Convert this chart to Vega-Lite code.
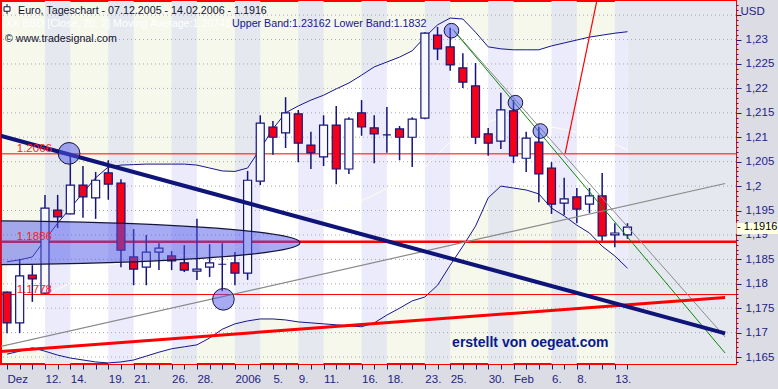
{
  "$schema": "https://vega.github.io/schema/vega-lite/v6.json",
  "width": 735,
  "height": 363,
  "autosize": {"type": "none"},
  "padding": {"left": 1, "top": 1, "right": 42, "bottom": 25},
  "background": "#dcdce4",
  "config": {
    "view": {"stroke": "#ff0000", "strokeWidth": 2, "fill": "#f5f8eb"},
    "font": "Liberation Sans",
    "axis": {"labelOverlap": false, "labelBound": false, "labelFlush": false, "labelLimit": 0}
  },
  "datasets": {
    "ohlc": [
      {"d":"2005-12-07","i":0,"o":1.1783,"h":1.1784,"l":1.1699,"c":1.1720,"ub":1.1845,"lb":1.1656,"ma":1.1751,"lav":null},
      {"d":"2005-12-08","i":1,"o":1.1720,"h":1.1851,"l":1.1699,"c":1.1816,"ub":1.1849,"lb":1.1662,"ma":1.1756,"lav":null},
      {"d":"2005-12-09","i":2,"o":1.1818,"h":1.1838,"l":1.1763,"c":1.1810,"ub":1.1855,"lb":1.1669,"ma":1.1762,"lav":null},
      {"d":"2005-12-12","i":3,"o":1.1781,"h":1.1982,"l":1.1779,"c":1.1955,"ub":1.1890,"lb":1.1662,"ma":1.1776,"lav":1},
      {"d":"2005-12-13","i":4,"o":1.1951,"h":1.1982,"l":1.1914,"c":1.1937,"ub":1.1924,"lb":1.1654,"ma":1.1789,"lav":1},
      {"d":"2005-12-14","i":5,"o":1.1943,"h":1.2068,"l":1.1942,"c":1.2002,"ub":1.1955,"lb":1.1648,"ma":1.1802,"lav":1},
      {"d":"2005-12-15","i":6,"o":1.2002,"h":1.2041,"l":1.1935,"c":1.1978,"ub":1.1986,"lb":1.1644,"ma":1.1815,"lav":null},
      {"d":"2005-12-16","i":7,"o":1.1976,"h":1.2029,"l":1.1933,"c":1.2012,"ub":1.2017,"lb":1.1640,"ma":1.1829,"lav":null},
      {"d":"2005-12-19","i":8,"o":1.2027,"h":1.2053,"l":1.1972,"c":1.2004,"ub":1.2039,"lb":1.1638,"ma":1.1839,"lav":2},
      {"d":"2005-12-20","i":9,"o":1.2006,"h":1.2014,"l":1.1834,"c":1.1869,"ub":1.2043,"lb":1.1640,"ma":1.1842,"lav":2},
      {"d":"2005-12-21","i":10,"o":1.1855,"h":1.1912,"l":1.1797,"c":1.1830,"ub":1.2044,"lb":1.1644,"ma":1.1844,"lav":2},
      {"d":"2005-12-22","i":11,"o":1.1834,"h":1.1900,"l":1.1797,"c":1.1865,"ub":1.2045,"lb":1.1652,"ma":1.1849,"lav":null},
      {"d":"2005-12-23","i":12,"o":1.1865,"h":1.1883,"l":1.1828,"c":1.1873,"ub":1.2045,"lb":1.1660,"ma":1.1853,"lav":null},
      {"d":"2005-12-26","i":13,"o":1.1857,"h":1.1867,"l":1.1828,"c":1.1847,"ub":1.2045,"lb":1.1667,"ma":1.1856,"lav":3},
      {"d":"2005-12-27","i":14,"o":1.1843,"h":1.1879,"l":1.1824,"c":1.1828,"ub":1.2045,"lb":1.1671,"ma":1.1858,"lav":3},
      {"d":"2005-12-28","i":15,"o":1.1826,"h":1.1933,"l":1.1808,"c":1.1830,"ub":1.2043,"lb":1.1675,"ma":1.1859,"lav":3},
      {"d":"2005-12-29","i":16,"o":1.1834,"h":1.1881,"l":1.1814,"c":1.1843,"ub":1.2037,"lb":1.1689,"ma":1.1863,"lav":null},
      {"d":"2005-12-30","i":17,"o":1.1840,"h":1.1883,"l":1.1785,"c":1.1840,"ub":1.2031,"lb":1.1707,"ma":1.1869,"lav":null},
      {"d":"2006-01-02","i":18,"o":1.1843,"h":1.1865,"l":1.1797,"c":1.1822,"ub":1.2030,"lb":1.1718,"ma":1.1874,"lav":4},
      {"d":"2006-01-03","i":19,"o":1.1822,"h":1.2031,"l":1.1808,"c":1.2012,"ub":1.2037,"lb":1.1724,"ma":1.1881,"lav":4},
      {"d":"2006-01-04","i":20,"o":1.2010,"h":1.2145,"l":1.2002,"c":1.2129,"ub":1.2076,"lb":1.1728,"ma":1.1902,"lav":4},
      {"d":"2006-01-05","i":21,"o":1.2121,"h":1.2133,"l":1.2064,"c":1.2100,"ub":1.2117,"lb":1.1728,"ma":1.1923,"lav":null},
      {"d":"2006-01-06","i":22,"o":1.2109,"h":1.2182,"l":1.2078,"c":1.2150,"ub":1.2150,"lb":1.1726,"ma":1.1938,"lav":null},
      {"d":"2006-01-09","i":23,"o":1.2148,"h":1.2156,"l":1.2049,"c":1.2088,"ub":1.2164,"lb":1.1722,"ma":1.1943,"lav":5},
      {"d":"2006-01-10","i":24,"o":1.2084,"h":1.2111,"l":1.2035,"c":1.2068,"ub":1.2176,"lb":1.1720,"ma":1.1948,"lav":5},
      {"d":"2006-01-11","i":25,"o":1.2060,"h":1.2145,"l":1.2041,"c":1.2125,"ub":1.2186,"lb":1.1718,"ma":1.1952,"lav":5},
      {"d":"2006-01-12","i":26,"o":1.2125,"h":1.2164,"l":1.2004,"c":1.2035,"ub":1.2199,"lb":1.1716,"ma":1.1958,"lav":null},
      {"d":"2006-01-13","i":27,"o":1.2035,"h":1.2141,"l":1.2025,"c":1.2137,"ub":1.2211,"lb":1.1714,"ma":1.1963,"lav":null},
      {"d":"2006-01-16","i":28,"o":1.2150,"h":1.2176,"l":1.2103,"c":1.2121,"ub":1.2227,"lb":1.1712,"ma":1.1970,"lav":6},
      {"d":"2006-01-17","i":29,"o":1.2119,"h":1.2145,"l":1.2047,"c":1.2107,"ub":1.2244,"lb":1.1720,"ma":1.1982,"lav":6},
      {"d":"2006-01-18","i":30,"o":1.2105,"h":1.2162,"l":1.2068,"c":1.2105,"ub":1.2254,"lb":1.1736,"ma":1.1995,"lav":6},
      {"d":"2006-01-19","i":31,"o":1.2117,"h":1.2123,"l":1.2053,"c":1.2100,"ub":1.2264,"lb":1.1750,"ma":1.2007,"lav":null},
      {"d":"2006-01-20","i":32,"o":1.2100,"h":1.2141,"l":1.2039,"c":1.2137,"ub":1.2277,"lb":1.1765,"ma":1.2021,"lav":null},
      {"d":"2006-01-23","i":33,"o":1.2139,"h":1.2315,"l":1.2137,"c":1.2313,"ub":1.2305,"lb":1.1773,"ma":1.2039,"lav":7},
      {"d":"2006-01-24","i":34,"o":1.2309,"h":1.2326,"l":1.2258,"c":1.2281,"ub":1.2330,"lb":1.1797,"ma":1.2064,"lav":7},
      {"d":"2006-01-25","i":35,"o":1.2285,"h":1.2324,"l":1.2236,"c":1.2248,"ub":1.2344,"lb":1.1838,"ma":1.2091,"lav":7},
      {"d":"2006-01-26","i":36,"o":1.2242,"h":1.2272,"l":1.2201,"c":1.2213,"ub":1.2342,"lb":1.1877,"ma":1.2110,"lav":null},
      {"d":"2006-01-27","i":37,"o":1.2205,"h":1.2252,"l":1.2086,"c":1.2100,"ub":1.2315,"lb":1.1918,"ma":1.2117,"lav":null},
      {"d":"2006-01-30","i":38,"o":1.2107,"h":1.2119,"l":1.2062,"c":1.2088,"ub":1.2285,"lb":1.1976,"ma":1.2131,"lav":8},
      {"d":"2006-01-31","i":39,"o":1.2092,"h":1.2191,"l":1.2076,"c":1.2156,"ub":1.2281,"lb":1.2000,"ma":1.2141,"lav":8},
      {"d":"2006-02-01","i":40,"o":1.2154,"h":1.2176,"l":1.2047,"c":1.2062,"ub":1.2279,"lb":1.1996,"ma":1.2138,"lav":8},
      {"d":"2006-02-02","i":41,"o":1.2057,"h":1.2111,"l":1.2029,"c":1.2098,"ub":1.2279,"lb":1.1992,"ma":1.2136,"lav":null},
      {"d":"2006-02-03","i":42,"o":1.2090,"h":1.2121,"l":1.1967,"c":1.2025,"ub":1.2279,"lb":1.1984,"ma":1.2132,"lav":null},
      {"d":"2006-02-06","i":43,"o":1.2037,"h":1.2049,"l":1.1943,"c":1.1963,"ub":1.2287,"lb":1.1955,"ma":1.2121,"lav":9},
      {"d":"2006-02-07","i":44,"o":1.1965,"h":1.2017,"l":1.1941,"c":1.1974,"ub":1.2293,"lb":1.1939,"ma":1.2116,"lav":9},
      {"d":"2006-02-08","i":45,"o":1.1978,"h":1.1996,"l":1.1924,"c":1.1953,"ub":1.2299,"lb":1.1920,"ma":1.2110,"lav":9},
      {"d":"2006-02-09","i":46,"o":1.1963,"h":1.1996,"l":1.1945,"c":1.1980,"ub":1.2305,"lb":1.1904,"ma":1.2105,"lav":null},
      {"d":"2006-02-10","i":47,"o":1.1980,"h":1.2027,"l":1.1888,"c":1.1898,"ub":1.2309,"lb":1.1877,"ma":1.2093,"lav":null},
      {"d":"2006-02-13","i":48,"o":1.1900,"h":1.1924,"l":1.1875,"c":1.1904,"ub":1.2313,"lb":1.1857,"ma":1.2086,"lav":10},
      {"d":"2006-02-14","i":49,"o":1.1900,"h":1.1924,"l":1.1892,"c":1.1916,"ub":1.2316,"lb":1.1832,"ma":1.2074,"lav":10}
    ],
    "stripes": [
      {"a":3,"b":5},{"a":8,"b":10},{"a":13,"b":15},{"a":18,"b":20},{"a":23,"b":25},
      {"a":28,"b":30},{"a":33,"b":35},{"a":38,"b":40},{"a":43,"b":45},{"a":48,"b":58}
    ],
    "grid": [
      {"v":1.165},{"v":1.17},{"v":1.175},{"v":1.18},{"v":1.185},{"v":1.19},{"v":1.195},{"v":1.2},
      {"v":1.205},{"v":1.21},{"v":1.215},{"v":1.22},{"v":1.225},{"v":1.23},{"v":1.235}
    ],
    "levels": [
      {"v":1.2066,"lbl":"1.2066"},{"v":1.1886,"lbl":"1.1886"},{"v":1.1778,"lbl":"1.1778"}
    ],
    "trends": [
      {"id":"down","i":-0.553,"p":1.21035},{"id":"down","i":56.71,"p":1.16986},
      {"id":"up","i":-0.553,"p":1.16612},{"id":"up","i":56.71,"p":1.17721},
      {"id":"sup","i":-0.553,"p":1.16712},{"id":"sup","i":56.71,"p":1.20053},
      {"id":"ch1","i":35.31,"p":1.23174},{"id":"ch1","i":56.71,"p":1.16583},
      {"id":"ch2","i":35.19,"p":1.23215},{"id":"ch2","i":56.71,"p":1.16911},
      {"id":"steep","i":44.08,"p":1.2067},{"id":"steep","i":46.92,"p":1.24218}
    ],
    "circles": [
      {"i":4.9,"p":1.2067},{"i":17.09,"p":1.17682},{"i":35.1,"p":1.23181},{"i":40.15,"p":1.21707},{"i":42.12,"p":1.21127}
    ],
    "ellipse": [{"i":-3.71,"p":1.1884}],
    "notes": [
      {"t":"Euro, Tageschart - 07.12.2005 - 14.02.2006 - 1.1916","i":0.87,"p":1.23522},
      {"t":"© www.tradesignal.com","i":-0.158,"p":1.22943}
    ],
    "bbd": [{"t":"XX BBD [Close, 20, 2] Moving Average:1.20741","i":-0.158,"p":1.2325}],
    "bands": [{"t":"Upper Band:1.23162 Lower Band:1.1832","i":17.77,"p":1.2325}],
    "credit": [{"t":"erstellt von oegeat.com","i":35.15,"p":1.167}],
    "icon": [{"i":0,"p":1.23625}],
    "last": [{"lbl":"- 1.1916","p":1.1916}]
  },
  "layer": [
    {
      "data": {"name": "stripes"},
      "mark": {"type": "rect", "fill": "#e5e8ef", "clip": true},
      "encoding": {
        "x": {"field": "a", "type": "quantitative", "scale": {"domain": [-0.474, 57.57], "nice": false, "zero": false, "padding": 0}},
        "x2": {"field": "b"}
      }
    },
    {
      "data": {"name": "ohlc"},
      "mark": {"type": "area", "fill": "#ffffff", "opacity": 1},
      "encoding": {
        "x": {"field": "i", "type": "quantitative", "scale": {"domain": [-0.474, 57.57], "nice": false, "zero": false, "padding": 0}},
        "y": {"field": "ub", "type": "quantitative", "scale": {"domain": [1.16358, 1.23789], "nice": false, "zero": false, "padding": 0}},
        "y2": {"field": "lb"}
      }
    },
    {
      "data": {"name": "ohlc"},
      "transform": [{"filter": "isValid(datum.lav)"}],
      "mark": {"type": "area", "fill": "#ebebfb", "opacity": 1},
      "encoding": {
        "x": {"field": "i", "type": "quantitative", "scale": {"domain": [-0.474, 57.57], "nice": false, "zero": false, "padding": 0}},
        "y": {"field": "ub", "type": "quantitative", "scale": {"domain": [1.16358, 1.23789], "nice": false, "zero": false, "padding": 0}},
        "y2": {"field": "lb"},
        "detail": {"field": "lav", "type": "nominal"}
      }
    },
    {
      "data": {"name": "grid"},
      "mark": {"type": "rule", "stroke": "#a8a8b4", "strokeDash": [1, 3], "strokeWidth": 1},
      "encoding": {
        "y": {"field": "v", "type": "quantitative", "scale": {"domain": [1.16358, 1.23789], "nice": false, "zero": false, "padding": 0}}
      }
    },
    {
      "data": {"name": "ohlc"},
      "mark": {"type": "line", "stroke": "#fffff0", "strokeWidth": 1},
      "encoding": {
        "x": {"field": "i", "type": "quantitative", "scale": {"domain": [-0.474, 57.57], "nice": false, "zero": false, "padding": 0}},
        "y": {"field": "ma", "type": "quantitative", "scale": {"domain": [1.16358, 1.23789], "nice": false, "zero": false, "padding": 0}}
      }
    },
    {
      "data": {"name": "ohlc"},
      "mark": {"type": "line", "stroke": "#15168c", "strokeWidth": 1},
      "encoding": {
        "x": {"field": "i", "type": "quantitative", "scale": {"domain": [-0.474, 57.57], "nice": false, "zero": false, "padding": 0}},
        "y": {"field": "ub", "type": "quantitative", "scale": {"domain": [1.16358, 1.23789], "nice": false, "zero": false, "padding": 0}}
      }
    },
    {
      "data": {"name": "ohlc"},
      "mark": {"type": "line", "stroke": "#15168c", "strokeWidth": 1},
      "encoding": {
        "x": {"field": "i", "type": "quantitative", "scale": {"domain": [-0.474, 57.57], "nice": false, "zero": false, "padding": 0}},
        "y": {"field": "lb", "type": "quantitative", "scale": {"domain": [1.16358, 1.23789], "nice": false, "zero": false, "padding": 0}}
      }
    },
    {
      "data": {"name": "levels"},
      "transform": [{"filter": "datum.v !== 1.1886"}],
      "mark": {"type": "rule", "stroke": "#ff0000", "strokeWidth": 1},
      "encoding": {
        "y": {"field": "v", "type": "quantitative", "scale": {"domain": [1.16358, 1.23789], "nice": false, "zero": false, "padding": 0}}
      }
    },
    {
      "data": {"name": "levels"},
      "transform": [{"filter": "datum.v === 1.1886"}],
      "mark": {"type": "rule", "stroke": "#ff0000", "strokeWidth": 2.5},
      "encoding": {
        "y": {"field": "v", "type": "quantitative", "scale": {"domain": [1.16358, 1.23789], "nice": false, "zero": false, "padding": 0}}
      }
    },
    {
      "data": {"name": "ohlc"},
      "mark": {"type": "rule", "stroke": "#14147a", "strokeWidth": 1.5},
      "encoding": {
        "x": {
          "field": "i", "type": "quantitative",
          "scale": {"domain": [-0.474, 57.57], "nice": false, "zero": false, "padding": 0},
          "axis": {
            "title": null,
            "tickCount": 1000,
            "values": [0,1,2,3,4,5,6,7,8,9,10,11,12,13,14,15,16,17,18,19,20,21,22,23,24,25,26,27,28,29,30,31,32,33,34,35,36,37,38,39,40,41,42,43,44,45,46,47,48,49],
            "labelExpr": "['Dez','','','12.','','14.','','','19.','','21.','','','26.','','28.','','','2006','','','5.','','9.','','11.','','','16.','','18.','','','23.','','25.','','','30.','','Feb','','','6.','','8.','','','13.',''][datum.value]",
            "domain": false, "grid": false, "ticks": true, "tickSize": 5, "tickColor": "#1a1e78", "tickWidth": 1,
            "labelAlign": "left", "labelBaseline": "top", "labelPadding": 4,
            "labelFont": "Liberation Sans", "labelFontSize": 11.5, "labelColor": "#1e2385",
            "labelOverlap": false, "labelBound": false, "labelFlush": false
          }
        },
        "y": {
          "field": "l", "type": "quantitative",
          "scale": {"domain": [1.16358, 1.23789], "nice": false, "zero": false, "padding": 0},
          "axis": {
            "orient": "right",
            "tickCount": 1000,
            "title": "USD", "titleAngle": 0, "titleAlign": "left", "titleBaseline": "alphabetic",
            "titleX": 4, "titleY": 13, "titleFont": "Liberation Sans", "titleFontSize": 11.5, "titleFontWeight": "normal", "titleColor": "#1e2385",
            "values": [1.164,1.165,1.166,1.167,1.168,1.169,1.17,1.171,1.172,1.173,1.174,1.175,1.176,1.177,1.178,1.179,1.18,1.181,1.182,1.183,1.184,1.185,1.186,1.187,1.188,1.189,1.19,1.191,1.192,1.193,1.194,1.195,1.196,1.197,1.198,1.199,1.2,1.201,1.202,1.203,1.204,1.205,1.206,1.207,1.208,1.209,1.21,1.211,1.212,1.213,1.214,1.215,1.216,1.217,1.218,1.219,1.22,1.221,1.222,1.223,1.224,1.225,1.226,1.227,1.228,1.229,1.23,1.231,1.232,1.233,1.234,1.235,1.236,1.237],
            "labelExpr": "(round(datum.value*1000) % 5 === 0 && datum.value < 1.2345) ? replace(format(datum.value, '.3~f'), '.', ',') : ''",
            "tickSize": {"condition": {"test": "round(datum.value*1000) % 5 === 0", "value": 5}, "value": 2},
            "tickColor": "#1a1e78", "tickWidth": 1,
            "domain": false, "grid": false,
            "labelPadding": 4, "labelFont": "Liberation Sans", "labelFontSize": 11.5, "labelColor": "#1e2385",
            "labelOverlap": false, "labelBound": false, "labelFlush": false
          }
        },
        "y2": {"field": "h"}
      }
    },
    {
      "data": {"name": "ohlc"},
      "mark": {"type": "bar", "size": 8, "stroke": "#14147a", "strokeWidth": 1.2},
      "encoding": {
        "x": {"field": "i", "type": "quantitative", "scale": {"domain": [-0.474, 57.57], "nice": false, "zero": false, "padding": 0}},
        "y": {"field": "o", "type": "quantitative", "scale": {"domain": [1.16358, 1.23789], "nice": false, "zero": false, "padding": 0}},
        "y2": {"field": "c"},
        "fill": {"condition": {"test": "datum.c < datum.o", "value": "#f40018"}, "value": "#f7f9ff"}
      }
    },
    {
      "data": {"name": "trends"},
      "transform": [{"filter": "datum.id === 'sup'"}],
      "mark": {"type": "line", "stroke": "#8a8a8a", "strokeWidth": 1.2, "clip": true},
      "encoding": {
        "x": {"field": "i", "type": "quantitative", "scale": {"domain": [-0.474, 57.57], "nice": false, "zero": false, "padding": 0}},
        "y": {"field": "p", "type": "quantitative", "scale": {"domain": [1.16358, 1.23789], "nice": false, "zero": false, "padding": 0}}
      }
    },
    {
      "data": {"name": "trends"},
      "transform": [{"filter": "datum.id === 'ch2'"}],
      "mark": {"type": "line", "stroke": "#8c8c8c", "strokeWidth": 1, "clip": true},
      "encoding": {
        "x": {"field": "i", "type": "quantitative", "scale": {"domain": [-0.474, 57.57], "nice": false, "zero": false, "padding": 0}},
        "y": {"field": "p", "type": "quantitative", "scale": {"domain": [1.16358, 1.23789], "nice": false, "zero": false, "padding": 0}}
      }
    },
    {
      "data": {"name": "trends"},
      "transform": [{"filter": "datum.id === 'ch1'"}],
      "mark": {"type": "line", "stroke": "#0a880a", "strokeWidth": 1, "clip": true},
      "encoding": {
        "x": {"field": "i", "type": "quantitative", "scale": {"domain": [-0.474, 57.57], "nice": false, "zero": false, "padding": 0}},
        "y": {"field": "p", "type": "quantitative", "scale": {"domain": [1.16358, 1.23789], "nice": false, "zero": false, "padding": 0}}
      }
    },
    {
      "data": {"name": "trends"},
      "transform": [{"filter": "datum.id === 'steep'"}],
      "mark": {"type": "line", "stroke": "#ff0000", "strokeWidth": 1.2, "clip": true},
      "encoding": {
        "x": {"field": "i", "type": "quantitative", "scale": {"domain": [-0.474, 57.57], "nice": false, "zero": false, "padding": 0}},
        "y": {"field": "p", "type": "quantitative", "scale": {"domain": [1.16358, 1.23789], "nice": false, "zero": false, "padding": 0}}
      }
    },
    {
      "data": {"name": "trends"},
      "transform": [{"filter": "datum.id === 'up'"}],
      "mark": {"type": "line", "stroke": "#ff0000", "strokeWidth": 3, "clip": true},
      "encoding": {
        "x": {"field": "i", "type": "quantitative", "scale": {"domain": [-0.474, 57.57], "nice": false, "zero": false, "padding": 0}},
        "y": {"field": "p", "type": "quantitative", "scale": {"domain": [1.16358, 1.23789], "nice": false, "zero": false, "padding": 0}}
      }
    },
    {
      "data": {"name": "trends"},
      "transform": [{"filter": "datum.id === 'down'"}],
      "mark": {"type": "line", "stroke": "#0f1478", "strokeWidth": 4, "clip": true},
      "encoding": {
        "x": {"field": "i", "type": "quantitative", "scale": {"domain": [-0.474, 57.57], "nice": false, "zero": false, "padding": 0}},
        "y": {"field": "p", "type": "quantitative", "scale": {"domain": [1.16358, 1.23789], "nice": false, "zero": false, "padding": 0}}
      }
    },
    {
      "data": {"name": "ellipse"},
      "mark": {"type": "point", "shape": "M-1,0C-1,-0.0357,-0.5523,-0.0647,0,-0.0647C0.5523,-0.0647,1,-0.0357,1,0C1,0.0357,0.5523,0.0647,0,0.0647C-0.5523,0.0647,-1,0.0357,-1,0Z", "size": 462400, "filled": true, "fill": "#5058e8", "fillOpacity": 0.5, "stroke": "#15153a", "strokeWidth": 1.2, "opacity": 1, "clip": true},
      "encoding": {
        "x": {"field": "i", "type": "quantitative", "scale": {"domain": [-0.474, 57.57], "nice": false, "zero": false, "padding": 0}},
        "y": {"field": "p", "type": "quantitative", "scale": {"domain": [1.16358, 1.23789], "nice": false, "zero": false, "padding": 0}}
      }
    },
    {
      "data": {"name": "circles"},
      "transform": [{"filter": "datum.i < 20"}],
      "mark": {"type": "point", "shape": "circle", "size": 470, "filled": true, "fill": "#5058e8", "fillOpacity": 0.5, "stroke": "#15153a", "strokeWidth": 1, "opacity": 1},
      "encoding": {
        "x": {"field": "i", "type": "quantitative", "scale": {"domain": [-0.474, 57.57], "nice": false, "zero": false, "padding": 0}},
        "y": {"field": "p", "type": "quantitative", "scale": {"domain": [1.16358, 1.23789], "nice": false, "zero": false, "padding": 0}}
      }
    },
    {
      "data": {"name": "circles"},
      "transform": [{"filter": "datum.i > 20"}],
      "mark": {"type": "point", "shape": "circle", "size": 215, "filled": true, "fill": "#5058e8", "fillOpacity": 0.5, "stroke": "#15153a", "strokeWidth": 1, "opacity": 1},
      "encoding": {
        "x": {"field": "i", "type": "quantitative", "scale": {"domain": [-0.474, 57.57], "nice": false, "zero": false, "padding": 0}},
        "y": {"field": "p", "type": "quantitative", "scale": {"domain": [1.16358, 1.23789], "nice": false, "zero": false, "padding": 0}}
      }
    },
    {
      "data": {"name": "levels"},
      "mark": {"type": "text", "align": "left", "baseline": "alphabetic", "dy": -2, "font": "Liberation Sans", "fontSize": 11.5, "fill": "#ff1a1a"},
      "encoding": {
        "x": {"datum": 0.77, "type": "quantitative", "scale": {"domain": [-0.474, 57.57], "nice": false, "zero": false, "padding": 0}},
        "y": {"field": "v", "type": "quantitative", "scale": {"domain": [1.16358, 1.23789], "nice": false, "zero": false, "padding": 0}},
        "text": {"field": "lbl"}
      }
    },
    {
      "data": {"name": "notes"},
      "mark": {"type": "text", "align": "left", "baseline": "alphabetic", "font": "Liberation Sans", "fontSize": 10.7, "fill": "#101030"},
      "encoding": {
        "x": {"field": "i", "type": "quantitative", "scale": {"domain": [-0.474, 57.57], "nice": false, "zero": false, "padding": 0}},
        "y": {"field": "p", "type": "quantitative", "scale": {"domain": [1.16358, 1.23789], "nice": false, "zero": false, "padding": 0}},
        "text": {"field": "t"}
      }
    },
    {
      "data": {"name": "bbd"},
      "mark": {"type": "text", "align": "left", "baseline": "alphabetic", "font": "Liberation Sans", "fontSize": 10.7, "fill": "#ffffff"},
      "encoding": {
        "x": {"field": "i", "type": "quantitative", "scale": {"domain": [-0.474, 57.57], "nice": false, "zero": false, "padding": 0}},
        "y": {"field": "p", "type": "quantitative", "scale": {"domain": [1.16358, 1.23789], "nice": false, "zero": false, "padding": 0}},
        "text": {"field": "t"}
      }
    },
    {
      "data": {"name": "bands"},
      "mark": {"type": "text", "align": "left", "baseline": "alphabetic", "font": "Liberation Sans", "fontSize": 10.7, "fill": "#16168c"},
      "encoding": {
        "x": {"field": "i", "type": "quantitative", "scale": {"domain": [-0.474, 57.57], "nice": false, "zero": false, "padding": 0}},
        "y": {"field": "p", "type": "quantitative", "scale": {"domain": [1.16358, 1.23789], "nice": false, "zero": false, "padding": 0}},
        "text": {"field": "t"}
      }
    },
    {
      "data": {"name": "credit"},
      "mark": {"type": "text", "align": "left", "baseline": "alphabetic", "font": "Liberation Sans", "fontSize": 14, "fontWeight": "bold", "fill": "#0b1a8a"},
      "encoding": {
        "x": {"field": "i", "type": "quantitative", "scale": {"domain": [-0.474, 57.57], "nice": false, "zero": false, "padding": 0}},
        "y": {"field": "p", "type": "quantitative", "scale": {"domain": [1.16358, 1.23789], "nice": false, "zero": false, "padding": 0}},
        "text": {"field": "t"}
      }
    },
    {
      "data": {"name": "icon"},
      "mark": {"type": "point", "shape": "M-0.6,-0.45H0.6V0.45H-0.6Z M0,-1V-0.45 M0,0.45V1", "size": 100, "filled": true, "fill": "#ffffff", "stroke": "#101030", "strokeWidth": 1, "opacity": 1},
      "encoding": {
        "x": {"field": "i", "type": "quantitative", "scale": {"domain": [-0.474, 57.57], "nice": false, "zero": false, "padding": 0}},
        "y": {"field": "p", "type": "quantitative", "scale": {"domain": [1.16358, 1.23789], "nice": false, "zero": false, "padding": 0}}
      }
    },
    {
      "data": {"name": "last"},
      "mark": {"type": "rect", "fill": "#ffffe1"},
      "encoding": {
        "x": {"datum": 57.6, "type": "quantitative", "scale": {"domain": [-0.474, 57.57], "nice": false, "zero": false, "padding": 0}},
        "x2": {"datum": 61},
        "y": {"datum": 1.19244, "type": "quantitative", "scale": {"domain": [1.16358, 1.23789], "nice": false, "zero": false, "padding": 0}},
        "y2": {"datum": 1.1902}
      }
    },
    {
      "data": {"name": "last"},
      "mark": {"type": "text", "align": "left", "baseline": "middle", "font": "Liberation Sans", "fontSize": 11, "fill": "#000000"},
      "encoding": {
        "x": {"datum": 57.65, "type": "quantitative", "scale": {"domain": [-0.474, 57.57], "nice": false, "zero": false, "padding": 0}},
        "y": {"field": "p", "type": "quantitative", "scale": {"domain": [1.16358, 1.23789], "nice": false, "zero": false, "padding": 0}},
        "text": {"field": "lbl"}
      }
    }
  ]
}
